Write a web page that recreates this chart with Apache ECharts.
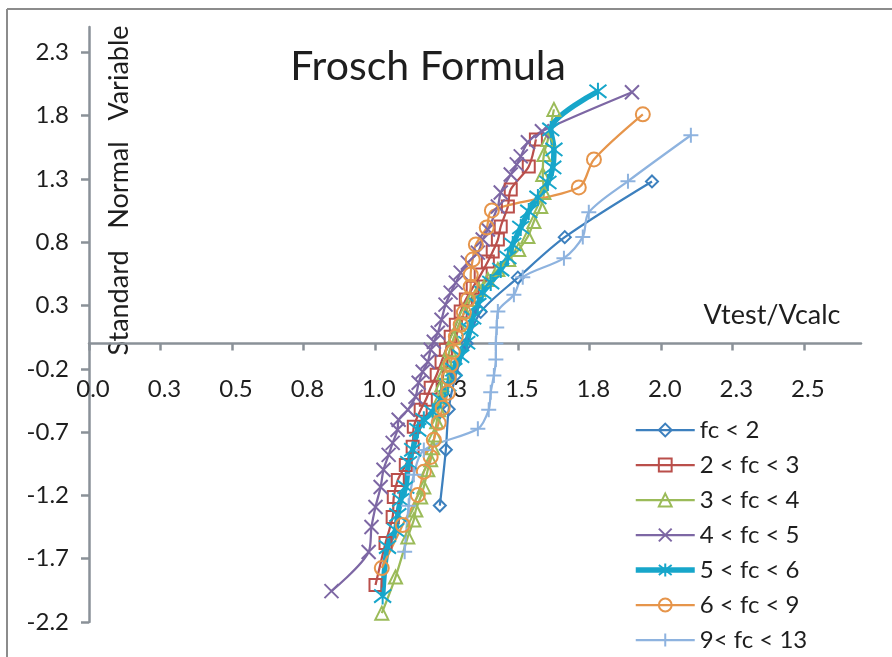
<!DOCTYPE html>
<html>
<head>
<meta charset="utf-8">
<script src="https://cdn.jsdelivr.net/npm/echarts@6/dist/echarts.min.js"></script>
<style>html,body{margin:0;padding:0;background:#fff}#c{width:892px;height:657px}</style>
</head>
<body>
<div id="c"></div>
<script>
// ---- data (Vtest/Vcalc vs standard normal variable) ----
const seriesNames = ['fc < 2', '2 < fc < 3', '3 < fc < 4', '4 < fc < 5', '5 < fc < 6', '6 < fc < 9', '9< fc < 13'];

const fc2X = [1.227, 1.248, 1.258, 1.283, 1.321, 1.370, 1.500, 1.664, 1.969];
const fc2Y = [-1.28, -0.84, -0.52, -0.25, 0.00, 0.25, 0.52, 0.84, 1.28];

const fc23X = [1.002, 1.037, 1.062, 1.066, 1.080, 1.108, 1.132, 1.136, 1.160, 1.178, 1.195, 1.216, 1.233, 1.248, 1.265, 1.283, 1.300, 1.318, 1.342, 1.370, 1.395, 1.412, 1.430, 1.440, 1.465, 1.475, 1.538, 1.563];
const fc23Y = [-1.908, -1.576, -1.370, -1.212, -1.078, -0.959, -0.816, -0.658, -0.524, -0.445, -0.350, -0.247, -0.144, -0.049, 0.054, 0.149, 0.252, 0.347, 0.441, 0.544, 0.647, 0.726, 0.821, 0.924, 1.082, 1.217, 1.398, 1.612];

const fc34X = [1.024, 1.072, 1.115, 1.136, 1.143, 1.160, 1.171, 1.185, 1.195, 1.202, 1.209, 1.216, 1.223, 1.230, 1.234, 1.241, 1.251, 1.262, 1.276, 1.293, 1.314, 1.335, 1.363, 1.395, 1.430, 1.468, 1.503, 1.535, 1.556, 1.580, 1.591, 1.587, 1.591, 1.605, 1.626];
const fc34Y = [-2.130, -1.845, -1.528, -1.394, -1.315, -1.212, -1.133, -0.998, -0.919, -0.824, -0.722, -0.619, -0.524, -0.421, -0.326, -0.231, -0.144, -0.049, 0.046, 0.149, 0.252, 0.347, 0.426, 0.505, 0.584, 0.663, 0.742, 0.845, 0.964, 1.082, 1.193, 1.335, 1.493, 1.612, 1.849];

const fc45X = [0.848, 0.978, 0.988, 1.002, 1.020, 1.030, 1.048, 1.062, 1.079, 1.083, 1.115, 1.142, 1.153, 1.167, 1.185, 1.195, 1.206, 1.220, 1.233, 1.247, 1.265, 1.283, 1.300, 1.325, 1.360, 1.377, 1.395, 1.430, 1.440, 1.475, 1.496, 1.510, 1.535, 1.584, 1.899];
const fc45Y = [-1.956, -1.647, -1.449, -1.291, -1.133, -0.998, -0.880, -0.785, -0.682, -0.603, -0.524, -0.421, -0.310, -0.223, -0.144, -0.049, 0.014, 0.085, 0.188, 0.307, 0.402, 0.481, 0.560, 0.639, 0.718, 0.821, 0.900, 1.082, 1.193, 1.335, 1.415, 1.478, 1.589, 1.676, 1.984];

const fc56X = [1.027, 1.044, 1.072, 1.080, 1.090, 1.108, 1.118, 1.132, 1.150, 1.171, 1.202, 1.230, 1.255, 1.276, 1.300, 1.321, 1.332, 1.342, 1.360, 1.377, 1.405, 1.440, 1.465, 1.482, 1.510, 1.538, 1.570, 1.605, 1.622, 1.626, 1.615, 1.780];
const fc56Y = [-1.995, -1.608, -1.473, -1.354, -1.236, -1.133, -0.943, -0.840, -0.682, -0.603, -0.540, -0.445, -0.326, -0.207, -0.100, 0.006, 0.109, 0.204, 0.307, 0.402, 0.481, 0.584, 0.679, 0.782, 0.916, 1.043, 1.154, 1.272, 1.391, 1.533, 1.691, 1.992];

const fc69X = [1.024, 1.097, 1.150, 1.171, 1.195, 1.206, 1.223, 1.237, 1.255, 1.258, 1.265, 1.272, 1.283, 1.300, 1.311, 1.325, 1.335, 1.335, 1.342, 1.353, 1.391, 1.409, 1.713, 1.766, 1.937];
const fc69Y = [-1.774, -1.434, -1.196, -1.014, -0.896, -0.761, -0.627, -0.508, -0.389, -0.270, -0.168, -0.065, 0.054, 0.149, 0.244, 0.347, 0.449, 0.544, 0.663, 0.782, 0.916, 1.051, 1.233, 1.454, 1.810];

const fc913X = [1.104, 1.118, 1.136, 1.171, 1.360, 1.398, 1.405, 1.416, 1.423, 1.423, 1.426, 1.430, 1.486, 1.517, 1.661, 1.727, 1.748, 1.885, 2.105];
const fc913Y = [-1.645, -1.282, -1.036, -0.842, -0.674, -0.524, -0.385, -0.253, -0.126, 0.000, 0.126, 0.253, 0.385, 0.524, 0.674, 0.842, 1.036, 1.282, 1.645];

const xTickValues = [0, 0.25, 0.5, 0.75, 1.0, 1.25, 1.5, 1.75, 2.0, 2.25, 2.5];
const xTickLabels = ['0.0', '0.3', '0.5', '0.8', '1.0', '1.3', '1.5', '1.8', '2.0', '2.3', '2.5'];
const yTickValues = [-2.2, -1.7, -1.2, -0.7, -0.2, 0.3, 0.8, 1.3, 1.8, 2.3];
const yTickLabels = ['-2.2', '-1.7', '-1.2', '-0.7', '-0.2', '0.3', '0.8', '1.3', '1.8', '2.3'];
const xMin = 0, xMax = 2.7, yMin = -2.2, yMax = 2.5;

// ---- styling ----
const FONT = 'Lato';
const TXT = '#1e1e1e';
const AX = '#8a9198';
const colors = ['#3D80BE', '#BA4F4B', '#9BBB59', '#7D67A4', '#17A6CA', '#E6954B', '#8EB3DF'];
const symbols = [
  'diamond', 'rect', 'triangle',
  'path://M0,0L10,10M10,0L0,10',
  'path://M0,0L10,10M10,0L0,10M5,-1.5L5,11.5',
  'circle',
  'path://M5,0L5,10M0,5L10,5'
];
const symbolSizes = [12, 12, 13, 14, 17, 14, 15];
const lineWidths = [2.25, 2.25, 2.25, 2.25, 5.5, 2.25, 2.25];
const xs = [fc2X, fc23X, fc34X, fc45X, fc56X, fc69X, fc913X];
const ys = [fc2Y, fc23Y, fc34Y, fc45Y, fc56Y, fc69Y, fc913Y];

function zip(a, b) { return a.map((v, i) => [v, b[i]]); }

const W = 892, H = 657;
const G = { left: 89, right: 31, top: 27, bottom: 35 };
const plotH = H - G.top - G.bottom;
// x axis crosses the y axis at value 0 -> shift the bottom axis up to that place
const xAxisOffset = -((0 - yMin) / (yMax - yMin)) * plotH;

const series = seriesNames.map((name, i) => ({
  name: name,
  type: 'line',
  data: zip(xs[i], ys[i]),
  smooth: 0.3,
  symbol: symbols[i],
  symbolSize: symbolSizes[i],
  showAllSymbol: true,
  lineStyle: { color: colors[i], width: lineWidths[i] },
  itemStyle: { color: 'rgba(255,255,255,0)', borderColor: colors[i], borderWidth: 2 },
  emphasis: { disabled: true },
  animation: false
}));

const chart = echarts.init(document.getElementById('c'), null, { renderer: 'canvas' });
chart.setOption({
  backgroundColor: '#ffffff',
  animation: false,
  grid: { left: G.left, right: G.right, top: G.top, bottom: G.bottom, containLabel: false, outerBoundsMode: 'none' },
  xAxis: {
    type: 'value', min: xMin, max: xMax,
    position: 'bottom', offset: xAxisOffset,
    axisLine: { onZero: false, lineStyle: { color: AX, width: 2.5 } },
    axisTick: { show: true, length: 7, customValues: xTickValues, lineStyle: { color: AX, width: 2.5 } },
    axisLabel: {
      customValues: xTickValues,
      formatter: v => xTickLabels[xTickValues.findIndex(t => Math.abs(t - v) < 1e-6)] || '',
      margin: 34, fontFamily: FONT, fontSize: 24, color: TXT, padding: [0, 0, 0, 8]
    },
    splitLine: { show: false }
  },
  yAxis: {
    type: 'value', min: yMin, max: yMax,
    axisLine: { show: true, onZero: false, lineStyle: { color: AX, width: 2.5 } },
    axisTick: { show: true, length: 8, customValues: yTickValues, lineStyle: { color: AX, width: 2.5 } },
    axisLabel: {
      customValues: yTickValues,
      formatter: v => yTickLabels[yTickValues.findIndex(t => Math.abs(t - v) < 1e-6)] || '',
      margin: 20, fontFamily: FONT, fontSize: 24, color: TXT
    },
    splitLine: { show: false }
  },
  legend: {
    orient: 'vertical', left: 633, top: 418, height: 260, padding: 0,
    itemWidth: 59, itemHeight: 16, itemGap: 11,
    selectedMode: false,
    textStyle: { fontFamily: FONT, fontSize: 24, color: TXT, lineHeight: 24 },
    data: seriesNames.map((n, i) => ({
      name: n,
      itemStyle: { color: 'rgba(255,255,255,0)', borderColor: colors[i], borderWidth: 2 },
      lineStyle: { color: colors[i], width: lineWidths[i] }
    }))
  },
  graphic: [
    { type: 'line', shape: { x1: 7, y1: 9, x2: 892, y2: 9 }, style: { stroke: '#8c8c8c', lineWidth: 2 }, silent: true },
    { type: 'line', shape: { x1: 7, y1: 9, x2: 7, y2: 657 }, style: { stroke: '#8c8c8c', lineWidth: 2 }, silent: true },
    { type: 'text', x: 428, y: 67, style: { text: 'Frosch Formula', font: '41px Lato', fill: TXT, align: 'center', verticalAlign: 'middle' } },
    { type: 'text', x: 772, y: 315, style: { text: 'Vtest/Vcalc', font: '27px Lato', fill: TXT, align: 'center', verticalAlign: 'middle' } },
    { type: 'text', x: 119, y: 73, rotation: Math.PI / 2, style: { text: 'Variable', font: '27px Lato', fill: TXT, align: 'center', verticalAlign: 'middle' } },
    { type: 'text', x: 119, y: 185, rotation: Math.PI / 2, style: { text: 'Normal', font: '27px Lato', fill: TXT, align: 'center', verticalAlign: 'middle' } },
    { type: 'text', x: 119, y: 303, rotation: Math.PI / 2, style: { text: 'Standard', font: '27px Lato', fill: TXT, align: 'center', verticalAlign: 'middle' } }
  ],
  series: series
});
</script>
</body>
</html>
